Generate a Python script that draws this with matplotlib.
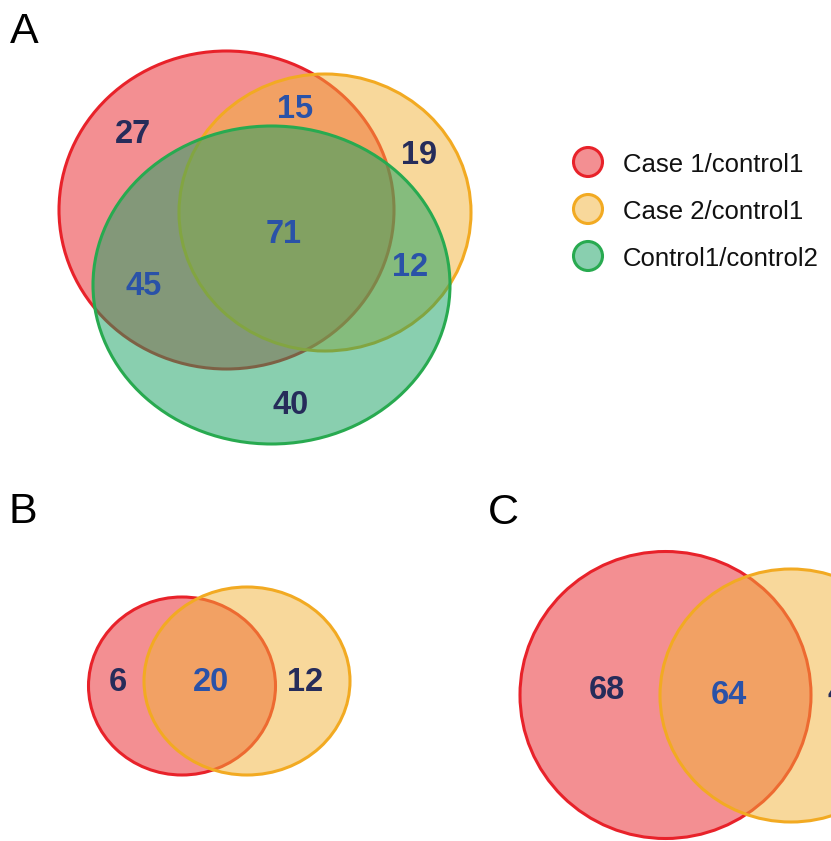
import matplotlib
matplotlib.use("Agg")
import matplotlib.pyplot as plt
from matplotlib.patches import Ellipse

plt.rcParams['font.family'] = ['Liberation Sans', 'DejaVu Sans']

# ---- data ----
set_names = ["Case 1/control1", "Case 2/control1", "Control1/control2"]
# Panel A region counts
a_labels = ["Case1 only", "Case1&Case2", "Case2 only", "All", "Case1&Control", "Case2&Control", "Control only"]
a_counts = [27, 15, 19, 71, 45, 12, 40]
# Panel B counts (Case1 only, both, Case2 only)
b_counts = [6, 20, 12]
# Panel C counts (Case1 only, both, Case2 only - cut off at the edge)
c_counts = [68, 64, 45]
panel_letters = ["A", "B", "C"]

# ---- styling ----
edge_cols = ["#E8222A", "#F2AA22", "#28AA50"]
face_cols = [(0.91, 0.13, 0.15, 0.5), (0.95, 0.70, 0.22, 0.5), (0.08, 0.63, 0.38, 0.5)]
uniq_col = "#262C5A"
inter_col = "#2A52A8"
NUM_FS = 23.5

fig = plt.figure(figsize=(8.31, 8.41), dpi=100)
ax = fig.add_axes([0, 0, 1, 1])
ax.set_xlim(0, 831)
ax.set_ylim(841, 0)
ax.axis('off')

def ell(cx, cy, w, h, i):
    ax.add_patch(Ellipse((cx, cy), w, h, facecolor=face_cols[i], edgecolor=edge_cols[i], linewidth=2.2))

def num(x, y, n, inter, ha='center'):
    ax.text(x, y, str(n), ha=ha, va='center_baseline', fontsize=NUM_FS, fontweight='bold',
            color=inter_col if inter else uniq_col)

# Panel A
ell(226.5, 210, 335, 318, 0)
ell(325, 212.5, 292, 277, 1)
ell(271.5, 285, 357, 318, 2)
a_pos = [(133, 131), (295, 106), (419, 152), (284, 231), (144, 283), (410, 264), (291, 402)]
a_inter = [False, True, False, True, True, True, False]
for (x, y), n, it in zip(a_pos, a_counts, a_inter):
    num(x, y, n, it)

# Legend
leg_y = [162, 209, 256]
for i, (name, y) in enumerate(zip(set_names, leg_y)):
    ax.add_patch(Ellipse((588, y), 29, 29, facecolor=face_cols[i], edgecolor=edge_cols[i], linewidth=2.2))
    ax.text(623, y, name, ha='left', va='center_baseline', fontsize=18.5, color='#111111')

# Panel B
ell(182, 686, 187, 178, 0)
ell(247, 681, 206, 188, 1)
b_pos = [(118, 679), (211, 679), (305, 679)]
for (x, y), n, it in zip(b_pos, b_counts, [False, True, False]):
    num(x, y, n, it)

# Panel C
ell(665.5, 695, 291, 287, 0)
ell(791, 695.5, 262, 253, 1)
c_pos = [(607, 687), (729, 692)]
for (x, y), n, it in zip(c_pos, c_counts[:2], [False, True]):
    num(x, y, n, it)
num(828, 690, c_counts[2], False, ha='left')

# Panel letters
for letter, (x, y) in zip(panel_letters, [(10, 43), (8, 523), (488, 524)]):
    ax.text(x, y, letter, ha='left', va='baseline', fontsize=31, color='black')

fig.savefig("out.png", dpi=100)
